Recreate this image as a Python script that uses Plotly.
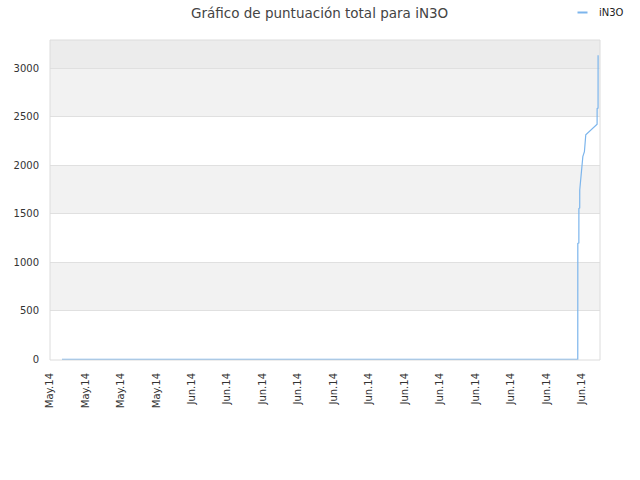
import plotly.graph_objects as go

# Data
times = [
    "2014-05-24 16:15", "2014-06-22 18:40", "2014-06-22 18:43",
    "2014-06-22 20:08", "2014-06-22 20:10", "2014-06-22 21:18",
    "2014-06-22 21:20", "2014-06-22 23:13", "2014-06-22 23:15",
    "2014-06-23 00:08", "2014-06-23 00:10", "2014-06-23 01:28",
    "2014-06-23 01:30", "2014-06-23 03:38", "2014-06-23 03:40",
    "2014-06-23 05:28", "2014-06-23 05:30", "2014-06-23 20:50",
    "2014-06-23 20:52", "2014-06-23 22:08", "2014-06-23 22:10",
]
scores = [
    0, 0, 1195,
    1200, 1555, 1560,
    1745, 1930, 1935,
    2000, 2005, 2085,
    2090, 2140, 2145,
    2310, 2315, 2424,
    2585, 2590, 3134,
]
series_name = "iN3O"
title_text = "Gráfico de puntuación total para iN3O"

tick_dates = [
    "2014-05-24", "2014-05-26", "2014-05-28", "2014-05-30",
    "2014-06-01", "2014-06-03", "2014-06-05", "2014-06-07",
    "2014-06-09", "2014-06-11", "2014-06-13", "2014-06-15",
    "2014-06-17", "2014-06-19", "2014-06-21", "2014-06-23",
]
tick_labels = ["May.14"] * 4 + ["Jun.14"] * 12
y_ticks = [0, 500, 1000, 1500, 2000, 2500, 3000]
y_range = [-7, 3292]
band_edges = [y_range[0], 500, 1000, 1500, 2000, 2500, 3000, y_range[1]]
band_colors = ["#ffffff", "#f2f2f2", "#ffffff", "#f2f2f2", "#ffffff", "#f2f2f2", "#ececec"]

line_color = "#7cb5ec"

fig = go.Figure()
fig.add_trace(go.Scatter(
    x=times, y=scores, mode="lines", name=series_name,
    line=dict(color=line_color, width=1.2), showlegend=False,
))

W, H = 640, 480
ml, mr, mt, mb = 50, 40, 40, 120
pw, ph = W - ml - mr, H - mt - mb


def px2paper_x(px):
    return (px - ml) / pw


def px2paper_y(py):
    return 1 - (py - mt) / ph


shapes = []
for i, c in enumerate(band_colors):
    shapes.append(dict(type="rect", xref="paper", yref="y", x0=0, x1=1,
                       y0=band_edges[i], y1=band_edges[i + 1],
                       fillcolor=c, line=dict(width=0), layer="below"))
shapes.append(dict(type="rect", xref="paper", yref="paper", x0=0, x1=1, y0=0, y1=1,
                   line=dict(color="#dcdcdc", width=1), layer="above"))
# legend swatch
shapes.append(dict(type="line", xref="paper", yref="paper",
                   x0=px2paper_x(577.5), x1=px2paper_x(587.5),
                   y0=px2paper_y(12.5), y1=px2paper_y(12.5),
                   line=dict(color=line_color, width=2)))

annotations = [
    dict(text=series_name, xref="paper", yref="paper",
         x=px2paper_x(597), y=px2paper_y(12.7), xanchor="left", yanchor="middle",
         showarrow=False, font=dict(size=10, color="#222222")),
    dict(text=title_text, xref="paper", yref="paper",
         x=px2paper_x(319), y=px2paper_y(12.5), xanchor="center", yanchor="middle",
         showarrow=False, font=dict(size=13.5, color="#444444")),
]

fig.update_layout(
    width=W, height=H,
    margin=dict(l=ml, r=mr, t=mt, b=mb),
    paper_bgcolor="white", plot_bgcolor="white",
    font=dict(family="DejaVu Sans", size=10, color="#333333"),
    showlegend=False,
    shapes=shapes,
    annotations=annotations,
    xaxis=dict(
        type="date", range=["2014-05-24 00:00", "2014-06-24 00:45"],
        tickmode="array", tickvals=tick_dates, ticktext=tick_labels,
        tickangle=-90, showgrid=False, zeroline=False, showline=False,
        ticks="", tickfont=dict(size=10, color="#333333"),
        ticklabelstandoff=10, automargin=False,
    ),
    yaxis=dict(
        range=y_range, tickmode="array", tickvals=y_ticks,
        showgrid=True, gridcolor="#e0e0e0", gridwidth=1, zeroline=False,
        showline=False, ticks="", tickfont=dict(size=10, color="#333333"),
        ticklabelstandoff=10, automargin=False,
    ),
)

fig.write_html("out.html", config={"displayModeBar": False},
               post_script="document.body.style.margin='0';")
